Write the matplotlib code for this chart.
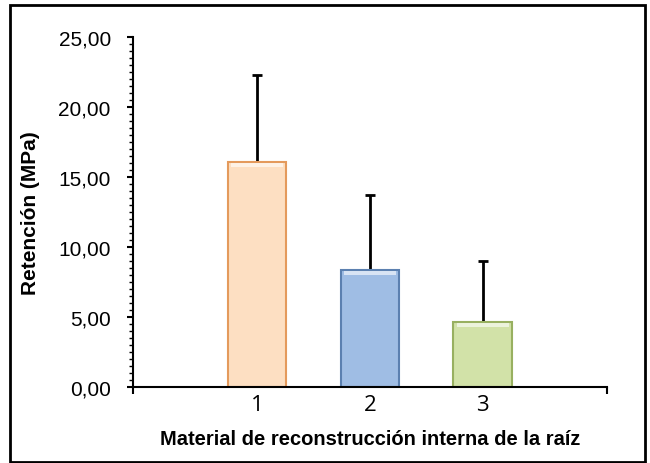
import numpy as np
import matplotlib
matplotlib.use("Agg")
import matplotlib.pyplot as plt
from matplotlib.patches import Rectangle
from matplotlib.ticker import FuncFormatter, MultipleLocator

categories = ["1", "2", "3"]
retencion = [16.05, 8.35, 4.65]
desviacion = [6.25, 5.35, 4.35]
fill_colors = ["#fddfc2", "#9fbde4", "#d2e2a8"]
edge_colors = ["#e49a5c", "#5b80b0", "#98b060"]

plt.rcParams["font.family"] = ["Liberation Sans", "DejaVu Sans"]

fig = plt.figure(figsize=(6.5, 4.64), dpi=100)
ax = fig.add_axes([0.2046, 0.1638, 0.7292, 0.7543])

x = np.arange(1, len(categories) + 1)
bars = ax.bar(x, retencion, width=0.52, color=fill_colors, edgecolor=edge_colors,
              linewidth=1.5, zorder=2)
# light strip at the top of each bar (bevel look)
for b in bars:
    ax.add_patch(Rectangle((b.get_x() + 0.03, b.get_height() - 0.35), b.get_width() - 0.06,
                           0.3, color="white", alpha=0.6, lw=0, zorder=3))

ax.errorbar(x, retencion, yerr=[np.zeros(3), desviacion], fmt="none", ecolor="black",
            elinewidth=2, capsize=3.5, capthick=2, zorder=1)

ax.set_xlim(-0.1, 4.1)
ax.set_ylim(0, 25)
ax.set_xticks(x)
ax.set_xticklabels(categories, fontsize=16, family=["Open Sans", "DejaVu Sans"])
ax.tick_params(axis="x", which="major", length=0, pad=5)
ax.set_xticks([-0.1, 4.1], minor=True)
ax.tick_params(axis="x", which="minor", length=5, width=1.5, direction="out")

ax.yaxis.set_major_locator(MultipleLocator(5))
ax.yaxis.set_minor_locator(MultipleLocator(0.5))
ax.yaxis.set_major_formatter(FuncFormatter(lambda v, p: ("%.2f" % v).replace(".", ",")))
ax.tick_params(axis="y", which="major", length=4, width=1.5, labelsize=15, pad=12)
ax.tick_params(axis="y", which="minor", length=3, width=1)

for s in ["top", "right"]:
    ax.spines[s].set_visible(False)
ax.spines["left"].set_linewidth(1.5)
ax.spines["bottom"].set_linewidth(1.5)

ax.set_ylabel("Retención (MPa)", fontsize=15, fontweight="bold")
ax.yaxis.set_label_coords(-0.196, 0.5)
ax.set_xlabel("Material de reconstrucción interna de la raíz", fontsize=14.5,
              fontweight="bold", labelpad=10)

fig.patches.append(Rectangle((10 / 650, 1 / 464), 635 / 650, 457 / 464, fill=False,
                             edgecolor="black", linewidth=2, transform=fig.transFigure))

fig.savefig("out.png", dpi=100)
